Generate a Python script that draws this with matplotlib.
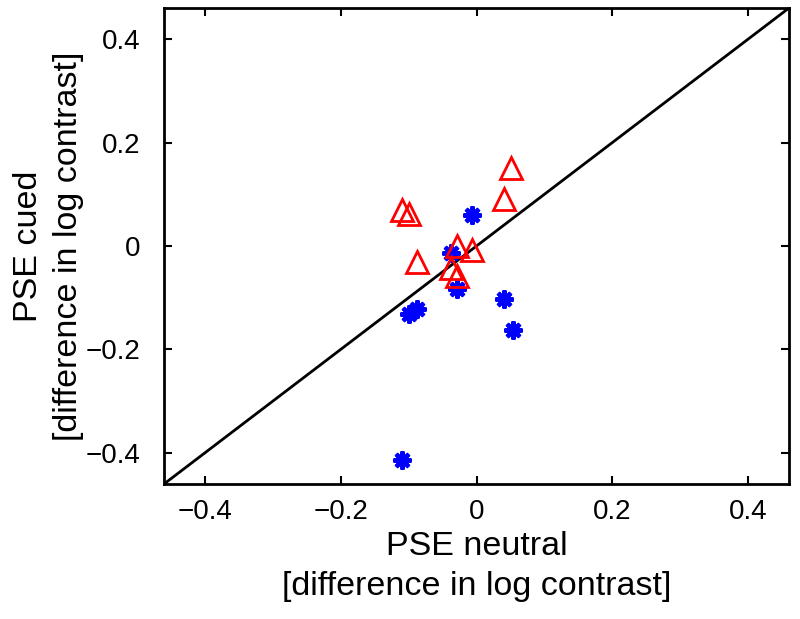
import matplotlib
matplotlib.use("Agg")
import matplotlib.pyplot as plt

plt.rcParams['font.family'] = ['Liberation Sans', 'DejaVu Sans']

# Data (PSE neutral, PSE cued)
tri_x = [0.051, 0.041, -0.110, -0.099, -0.088, -0.028, -0.007, -0.038, -0.029]
tri_y = [0.151, 0.091, 0.070, 0.062, -0.031, 0.000, -0.008, -0.043, -0.058]
star_x = [-0.007, -0.038, -0.028, 0.041, 0.053, -0.087, -0.099, -0.109]
star_y = [0.060, -0.014, -0.083, -0.103, -0.163, -0.122, -0.132, -0.414]
ticks = [-0.4, -0.2, 0, 0.2, 0.4]
tick_labels = ['\u22120.4', '\u22120.2', '0', '0.2', '0.4']
lim = 0.46

fig = plt.figure(figsize=(8, 6.19), dpi=100)
ax = fig.add_axes([164/800, 1 - 484/619, (789-164)/800, (484-8)/619])

ax.plot([-lim, lim], [-lim, lim], color='black', lw=2, zorder=1)
ax.plot(star_x, star_y, linestyle='none', marker=(8, 2, 0), markersize=13,
        markeredgewidth=3, color='blue', zorder=2)
ax.plot(tri_x, tri_y, linestyle='none', marker='^', markersize=16,
        markerfacecolor='none', markeredgecolor='red', markeredgewidth=2, zorder=3)

ax.set_xlim(-lim, lim)
ax.set_ylim(-lim, lim)
ax.set_xticks(ticks)
ax.set_xticklabels(tick_labels)
ax.set_yticks(ticks)
ax.set_yticklabels(tick_labels)
ax.tick_params(direction='in', top=True, right=True, length=6, width=1.5,
               labelsize=20)
ax.tick_params(axis='x', pad=11)
ax.tick_params(axis='y', pad=17)
for s in ax.spines.values():
    s.set_linewidth(2)

ax.set_xlabel('PSE neutral\n[difference in log contrast]', fontsize=24.5, labelpad=4,
              linespacing=1.4)
ax.set_ylabel('PSE cued\n[difference in log contrast]', fontsize=24.5, labelpad=1,
              linespacing=1.4)

fig.savefig('out.png', dpi=100)
